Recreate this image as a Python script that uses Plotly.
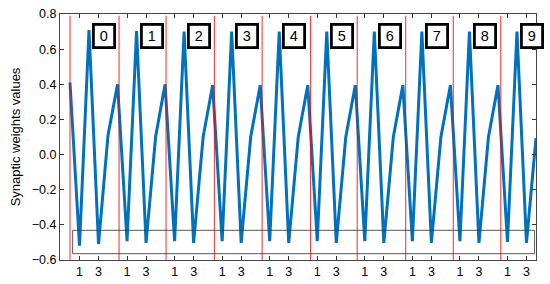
import plotly.graph_objects as go

# Synaptic weight values (10 neurons x 5 positions, flattened)
weights = [
    0.41, -0.518, 0.709, -0.509, 0.11,
    0.40, -0.493, 0.703, -0.503, 0.10,
    0.40, -0.493, 0.700, -0.503, 0.10,
    0.395, -0.493, 0.700, -0.503, 0.10,
    0.395, -0.493, 0.700, -0.503, 0.10,
    0.395, -0.493, 0.700, -0.503, 0.10,
    0.395, -0.493, 0.700, -0.503, 0.10,
    0.395, -0.493, 0.700, -0.503, 0.10,
    0.395, -0.493, 0.700, -0.503, 0.10,
    0.395, -0.497, 0.700, -0.503, 0.093,
]
index = list(range(len(weights)))

group_labels = ["0", "1", "2", "3", "4", "5", "6", "7", "8", "9"]
group_size = 5
separators = [0.0, 5.16, 10.1, 15.18, 20.2, 25.3, 30.2, 35.3, 40.3, 45.3]
tick_text_cycle = ["1", "3"]
tick_offsets = [1, 3]

# highlight rectangle (data coords)
rect_x = [0.28, 48.85]
rect_y = [-0.564, -0.431]

label_y = 0.677
label_dx = 3.6

fig = go.Figure()
fig.add_trace(go.Scatter(
    x=index, y=weights, mode="lines",
    line=dict(color="#0072BD", width=3),
    showlegend=False, hoverinfo="skip",
))

shapes = []
for s in separators:
    shapes.append(dict(type="line", xref="x", yref="y", x0=s, x1=s, y0=-0.6, y1=0.79,
                       line=dict(color="rgba(255,0,0,0.85)", width=1), layer="above"))
shapes.append(dict(type="rect", xref="x", yref="y", x0=rect_x[0], x1=rect_x[1],
                   y0=rect_y[0], y1=rect_y[1],
                   line=dict(color="rgba(60,60,60,0.85)", width=1), layer="above"))

annotations = []
for g, lab in enumerate(group_labels):
    annotations.append(dict(
        x=g * group_size + label_dx, y=label_y, xref="x", yref="y",
        text=lab, showarrow=False,
        font=dict(family="Liberation Sans, Arial", size=14.5, color="black"),
        bordercolor="black", borderwidth=2.8, borderpad=0,
        width=18, height=20, bgcolor="white",
    ))

tickvals = []
ticktext = []
for g in range(len(group_labels)):
    for off, t in zip(tick_offsets, tick_text_cycle):
        tickvals.append(g * group_size + off)
        ticktext.append(t)

fig.update_layout(
    width=550, height=284,
    margin=dict(l=60, r=14, t=14, b=24),
    paper_bgcolor="white", plot_bgcolor="white",
    font=dict(family="Liberation Sans, Arial", size=12, color="black"),
    shapes=shapes, annotations=annotations,
    xaxis=dict(
        range=[-1.05, 49], tickvals=tickvals, ticktext=ticktext,
        ticks="inside", ticklen=4, tickcolor="#333", mirror="ticks",
        showline=True, linecolor="#444", linewidth=1, showgrid=False, zeroline=False,
        tickfont=dict(size=12.5), automargin=False,
    ),
    yaxis=dict(
        range=[-0.6, 0.8], dtick=0.2, tickformat=".1f",
        ticks="inside", ticklen=4, tickcolor="#333", mirror="ticks",
        showline=True, linecolor="#444", linewidth=1, showgrid=False, zeroline=False,
        title=dict(text="Synaptic weights values", font=dict(size=13), standoff=8),
        tickfont=dict(size=12.5), automargin=False,
    ),
)

fig.write_html("out.html", config={"displayModeBar": False},
               post_script="document.body.style.margin='0';")
